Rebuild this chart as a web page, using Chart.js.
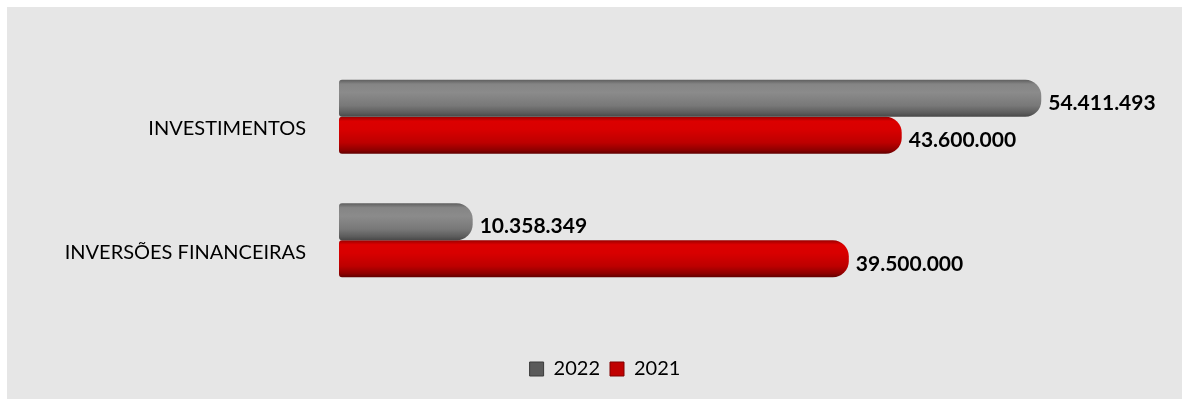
<!DOCTYPE html>
<html lang="pt">
<head>
<meta charset="UTF-8">
<title>Investimentos</title>
<script src="https://cdn.jsdelivr.net/npm/chart.js"></script>
<style>
    html, body { margin: 0; padding: 0; background: #ffffff; }
    .panel { position: absolute; left: 7px; top: 7px; width: 1175px; height: 392px; background: #e6e6e6; }
</style>
</head>
<body>
<div class="panel"><canvas id="chart" width="1175" height="392"></canvas></div>
<script>
const categories = ['INVESTIMENTOS', 'INVERSÕES FINANCEIRAS'];
const seriesNames = ['2022', '2021'];
const values2022 = [54411493, 10358349];
const values2021 = [43600000, 39500000];

const gradStops = {
    '2022': [[0, '#5e5e5e'], [0.12, '#858585'], [0.35, '#8b8b8b'], [0.7, '#787878'], [0.9, '#5c5c5c'], [1, '#474747']],
    '2021': [[0, '#9a0000'], [0.12, '#dc0000'], [0.35, '#d80000'], [0.7, '#bd0000'], [0.9, '#8e0000'], [1, '#600000']]
};
const solid = { '2022': '#7a7a7a', '2021': '#cc0000' };

const catPct = 0.6;

// vertical gradient per bar, placed from the y scale
function barFill(context) {
    const chart = context.chart;
    const name = seriesNames[context.datasetIndex];
    const y = chart.scales.y;
    if (context.dataIndex === undefined || !y || y.top === undefined) return solid[name];
    const band = (y.bottom - y.top) / categories.length;
    const thick = band * catPct / seriesNames.length;
    const center = y.getPixelForValue(context.dataIndex);
    const top = center - thick + context.datasetIndex * thick;
    const g = chart.ctx.createLinearGradient(0, top, 0, top + thick);
    gradStops[name].forEach(s => g.addColorStop(s[0], s[1]));
    return g;
}

const fmt = v => v.toLocaleString('de-DE');

const valueLabels = {
    id: 'valueLabels',
    afterDatasetsDraw(chart) {
        const ctx = chart.ctx;
        ctx.save();
        ctx.font = 'bold 21px Lato';
        ctx.fillStyle = '#000000';
        ctx.textAlign = 'left';
        ctx.textBaseline = 'middle';
        chart.data.datasets.forEach((ds, di) => {
            chart.getDatasetMeta(di).data.forEach((bar, i) => {
                ctx.fillText(fmt(ds.data[i]), bar.x + 7, bar.y + 5);
            });
        });
        ctx.restore();
    }
};

const legendShift = {
    id: 'legendShift',
    afterLayout(chart) {
        chart.legend.left += 19;
        chart.legend.right += 19;
    }
};

new Chart(document.getElementById('chart'), {
    type: 'bar',
    data: {
        labels: categories,
        datasets: [
            { label: seriesNames[0], data: values2022, backgroundColor: barFill },
            { label: seriesNames[1], data: values2021, backgroundColor: barFill }
        ]
    },
    options: {
        indexAxis: 'y',
        responsive: false,
        animation: false,
        devicePixelRatio: 1,
        categoryPercentage: catPct,
        barPercentage: 1.0,
        borderSkipped: false,
        borderRadius: { topLeft: 3, bottomLeft: 3, topRight: 16, bottomRight: 16 },
        layout: { padding: { top: 48, bottom: 10, right: 17, left: 0 } },
        scales: {
            x: {
                min: 0, max: 64000000,
                grid: { display: false }, border: { display: false },
                ticks: { display: false },
                afterFit: s => { s.height = 47; }
            },
            y: {
                grid: { display: false, drawTicks: false }, border: { display: false },
                ticks: { color: '#000000', font: { family: 'Lato', size: 20 }, padding: 33, labelOffset: 12 },
                afterFit: s => { s.width = 332; }
            }
        },
        plugins: {
            tooltip: { enabled: false },
            legend: {
                position: 'bottom',
                labels: {
                    color: '#000000',
                    font: { family: 'Lato', size: 20 },
                    boxWidth: 14, boxHeight: 14, padding: 10,
                    generateLabels: chart => seriesNames.map((n, i) => ({
                        text: n,
                        fillStyle: i === 0 ? '#5a5a5a' : '#c00000',
                        strokeStyle: i === 0 ? '#3a3a3a' : '#800000',
                        lineWidth: 1,
                        datasetIndex: i
                    }))
                }
            }
        }
    },
    plugins: [valueLabels, legendShift]
});
</script>
</body>
</html>
